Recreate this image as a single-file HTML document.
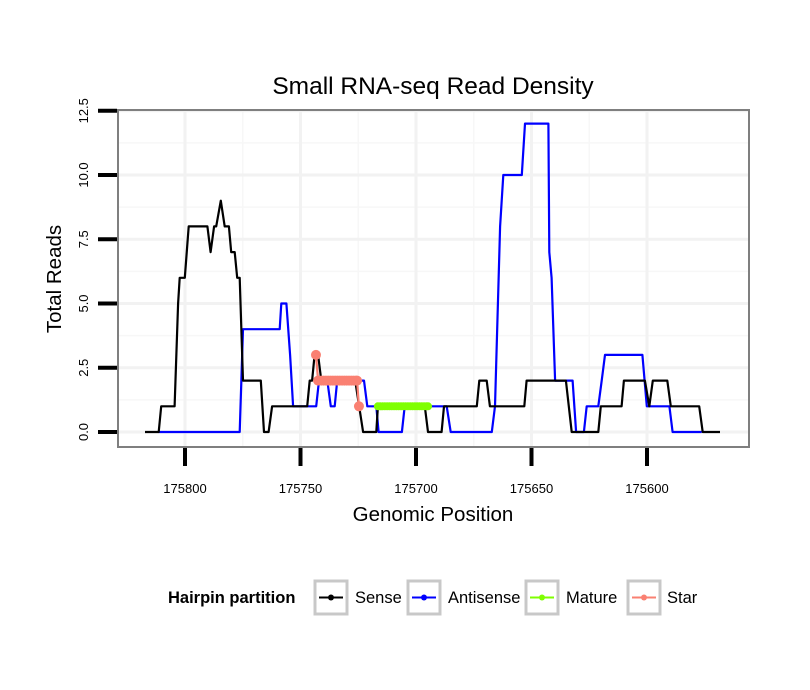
<!DOCTYPE html>
<html><head><meta charset="utf-8"><style>
body{margin:0;background:#fff;}
svg{display:block;font-family:"Liberation Sans",Arial,sans-serif;}
</style></head><body>
<svg id="chart" width="810" height="690" viewBox="0 0 810 690" xmlns="http://www.w3.org/2000/svg">
<rect width="810" height="690" fill="#fff"/>
<text x="433" y="94" font-size="24.5" text-anchor="middle">Small RNA-seq Read Density</text>
<g id="grid"></g>
<g id="series"></g>
<rect x="118" y="110" width="631" height="337" fill="none" stroke="#7f7f7f" stroke-width="2"/>
<g id="yaxis"></g>
<g id="xaxis"></g>
<text x="433" y="521" font-size="20.5" text-anchor="middle">Genomic Position</text>
<text transform="translate(61,279) rotate(-90)" font-size="20.5" text-anchor="middle">Total Reads</text>
<g>
<text x="168" y="603" font-size="16.5" font-weight="bold">Hairpin partition</text>
<g>
<rect x="315" y="581" width="32" height="33" fill="#fff" stroke="#c8c8c8" stroke-width="3"/>
<line x1="319" y1="597.5" x2="343" y2="597.5" stroke="#000" stroke-width="2"/><circle cx="331" cy="597.5" r="3" fill="#000"/>
<text x="355" y="603" font-size="16.5">Sense</text></g>
<g>
<rect x="408" y="581" width="32" height="33" fill="#fff" stroke="#c8c8c8" stroke-width="3"/>
<line x1="412" y1="597.5" x2="436" y2="597.5" stroke="#00f" stroke-width="2"/><circle cx="424" cy="597.5" r="3" fill="#00f"/>
<text x="448" y="603" font-size="16.5">Antisense</text></g>
<g>
<rect x="526" y="581" width="32" height="33" fill="#fff" stroke="#c8c8c8" stroke-width="3"/>
<line x1="530" y1="597.5" x2="554" y2="597.5" stroke="#7fff00" stroke-width="2"/><circle cx="542" cy="597.5" r="3" fill="#7fff00"/>
<text x="566" y="603" font-size="16.5">Mature</text></g>
<g>
<rect x="628" y="581" width="32" height="33" fill="#fff" stroke="#c8c8c8" stroke-width="3"/>
<line x1="632" y1="597.5" x2="656" y2="597.5" stroke="#fa8072" stroke-width="2"/><circle cx="644" cy="597.5" r="3" fill="#fa8072"/>
<text x="667" y="603" font-size="16.5">Star</text></g>
</g>
</svg>
<script>
const xTicks = [175800, 175750, 175700, 175650, 175600];
const xTickLabels = ["175800", "175750", "175700", "175650", "175600"];
const yTicks = [0, 2.5, 5, 7.5, 10, 12.5];
const yTickLabels = ["0.0", "2.5", "5.0", "7.5", "10.0", "12.5"];
const sensePos = [175817.3,175811.4,175810.3,175804.5,175803.0,175802.3,175800.1,175798.4,175790.3,175788.9,175787.4,175786.5,175784.5,175782.8,175781.0,175780.0,175778.5,175777.4,175776.3,175774.9,175767.2,175765.8,175763.8,175762.3,175747.1,175746.0,175745.0,175743.9,175742.4,175741.0,175726.3,175722.9,175717.2,175716.5,175696.2,175694.8,175688.9,175687.9,175673.7,175672.6,175669.4,175668.0,175653.1,175652.1,175635.1,175632.6,175621.1,175620.0,175611.0,175610.0,175600.9,175599.0,175597.5,175591.2,175589.7,175577.4,175575.9,175568.4];
const senseVal = [0,0,1,1,5,6,6,8,8,7,8,8,9,8,8,7,7,6,6,2,2,0,0,1,1,2,2,3,3,2,2,0,0,1,1,0,0,1,1,2,2,1,1,2,2,0,0,1,1,2,2,1,2,2,1,1,0,0];
const antiPos = [175811.4,175776.3,175774.9,175759.0,175758.3,175756.1,175754.5,175753.2,175743.2,175742.0,175738.4,175736.9,175735.2,175734.1,175722.5,175721.1,175717.2,175716.2,175706.1,175704.9,175686.7,175685.0,175667.2,175665.8,175663.6,175662.2,175654.2,175652.8,175642.7,175642.3,175641.3,175639.8,175632.2,175630.7,175627.3,175626.1,175621.1,175619.6,175618.2,175602.0,175600.1,175590.3,175588.9,175576.3];
const antiVal = [0,0,4,4,5,5,3,1,1,2,2,1,1,2,2,1,1,0,0,1,1,0,0,1,8,10,10,12,12,7,6,2,2,0,0,1,1,2,3,3,1,1,0,0];
const starPos = [175743.3,175742.4,175741,175740,175739,175738,175737,175736,175735,175734,175733,175732,175731,175730,175729,175728,175727,175726,175725.5,175724.7];
const starVal = [3,2,2,2,2,2,2,2,2,2,2,2,2,2,2,2,2,2,2,1];
const maturePos = [175716.5,175715.5,175714.5,175713.5,175712.5,175711.5,175710.5,175709.5,175708.5,175707.5,175706.5,175705.5,175704.5,175703.5,175702.5,175701.5,175700.5,175699.5,175698.5,175697.5,175696.5,175695.5,175694.8];
const matureVal = [1,1,1,1,1,1,1,1,1,1,1,1,1,1,1,1,1,1,1,1,1,1,1];

const NS = "http://www.w3.org/2000/svg";
function X(p){ return 185 + (175800 - p) * 2.31; }
function Y(v){ return 432 - v * 25.7; }
function mk(tag, attrs, parent){ const e = document.createElementNS(NS, tag); for (const k in attrs) e.setAttribute(k, attrs[k]); parent.appendChild(e); return e; }

const grid = document.getElementById('grid');
const yax = document.getElementById('yaxis');
const xax = document.getElementById('xaxis');
for (let i = 0; i < yTicks.length - 1; i++) {
  const m = (yTicks[i] + yTicks[i+1]) / 2;
  const g = mk('line', {x1:119, x2:748, y1:Y(m), y2:Y(m), stroke:'#f7f7f7', 'stroke-width':1.5}, grid);
  
  
}
for (let i = 0; i < xTicks.length - 1; i++) {
  const m = (xTicks[i] + xTicks[i+1]) / 2;
  const g = mk('line', {x1:X(m), x2:X(m), y1:111, y2:446, stroke:'#f7f7f7', 'stroke-width':1.5}, grid);
  
  
}
yTicks.forEach((t, i) => {
  const g = mk('line', {x1:119, x2:748, y1:Y(t), y2:Y(t), stroke:'#f2f2f2', 'stroke-width':3}, grid);
  
  
  const tk = mk('line', {x1:98, x2:117, y1:Y(t), y2:Y(t), stroke:'#000', 'stroke-width':4}, yax);
  
  
  const lb = mk('text', {transform:'translate(' + 88 + ',' + Y(t) + ') rotate(-90)', 'font-size':13, 'text-anchor':'middle'}, yax);
  lb.textContent = yTickLabels[i];
  
  
});
xTicks.forEach((t, i) => {
  const g = mk('line', {x1:X(t), x2:X(t), y1:111, y2:446, stroke:'#f2f2f2', 'stroke-width':3}, grid);
  
  
  const tk = mk('line', {x1:X(t), x2:X(t), y1:448, y2:466, stroke:'#000', 'stroke-width':4}, xax);
  
  
  const lb = mk('text', {x:X(t), y:493, 'font-size':13, 'text-anchor':'middle'}, xax);
  lb.textContent = xTickLabels[i];
  
  
});

const series = document.getElementById('series');
function line(pos, val, color, name){
  const d = pos.map((p, i) => (i ? 'L' : 'M') + X(p).toFixed(1) + ',' + Y(val[i]).toFixed(1)).join('');
  const el = mk('path', {d:d, fill:'none', stroke:color, 'stroke-width':2.2, 'stroke-linejoin':'round'}, series);
  
  
}
function pts(pos, val, color, name, r){
  pos.forEach((p, i) => {
    const c = mk('circle', {cx:X(p), cy:Y(val[i]), r:r, fill:color}, series);
    
    
  });
}
line(antiPos, antiVal, '#0000ff', 'antisense-line');
line(sensePos, senseVal, '#000000', 'sense-line');
line(maturePos, matureVal, '#7fff00', 'mature-line');
pts(maturePos, matureVal, '#7fff00', 'mature-point', 4);
line(starPos, starVal, '#fa8072', 'star-line');
pts(starPos, starVal, '#fa8072', 'star-point', 5);
</script>
</body></html>
